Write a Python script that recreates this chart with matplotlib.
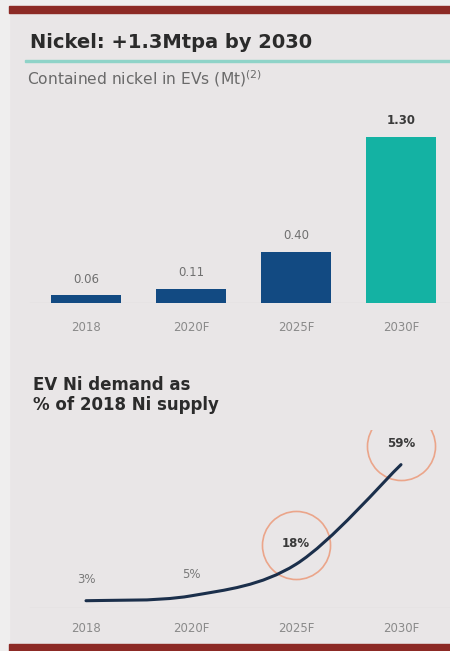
import numpy as np
import matplotlib
matplotlib.use("Agg")
import matplotlib.pyplot as plt
from matplotlib.patches import Rectangle, PathPatch
from matplotlib.path import Path
from matplotlib.transforms import offset_copy

# data
years = ["2018", "2020F", "2025F", "2030F"]
contained_ni = [0.06, 0.11, 0.40, 1.30]
bar_labels = ["0.06", "0.11", "0.40", "1.30"]
pct_supply = [3, 5, 18, 59]
pct_labels = ["3%", "5%", "18%", "59%"]

W, H = 450, 651
fig = plt.figure(figsize=(W / 100, H / 100), dpi=100)
fig.patch.set_facecolor("#e9e6e7")

def fx(x):
    return x / W

def fy(y):
    return 1 - y / H

# left strip, top margin and red bands
fig.patches.append(Rectangle((0, 0), fx(9), 1, transform=fig.transFigure,
                             color="#efeeee", zorder=0))
fig.patches.append(Rectangle((0, fy(6)), 1, 6 / H, transform=fig.transFigure,
                             color="#efeeee", zorder=0))
fig.patches.append(Rectangle((fx(9), fy(13)), 1, 7 / H, transform=fig.transFigure,
                             color="#8c2a25", zorder=1))
fig.patches.append(Rectangle((fx(9), 0), 1, 7 / H, transform=fig.transFigure,
                             color="#8c2a25", zorder=1))
# teal rule under title
fig.patches.append(Rectangle((fx(25), fy(62)), 1, 2 / H, transform=fig.transFigure,
                             color="#8fd3c8", zorder=1))

fig.text(fx(30), fy(42), "Nickel: +1.3Mtpa by 2030", fontsize=14, fontweight="bold",
         color="#2b2b2b", va="center", ha="left")
fig.text(fx(27), fy(79), "Contained nickel in EVs (Mt)$^{(2)}$", fontsize=11.2,
         color="#6a6a6a", va="center", ha="left")

x = np.arange(len(years))
xlim = (-86 / 105, (450 - 86) / 105)

# bar chart
ax1 = fig.add_axes([0, fy(303), 1, (303 - 100) / H])
ax1.set_zorder(3)
ax1.set_facecolor("none")
colors = ["#124a82", "#124a82", "#124a82", "#14b2a3"]
ax1.bar(x, contained_ni, width=0.67, color=colors, zorder=2)
ax1.set_xlim(xlim)
ax1.set_ylim(0, 203 / 127.7)
for xi, v, lab in zip(x, contained_ni, bar_labels):
    bold = lab == "1.30"
    ax1.annotate(lab, (xi, v), xytext=(0, 7), textcoords="offset points",
                 ha="center", va="bottom", fontsize=8.5,
                 fontweight="bold" if bold else "normal",
                 color="#3a3a3a" if bold else "#707070")
ax1.axhline(0, xmin=fx(30), color="#dcdada", lw=1, zorder=1)
for s in ax1.spines.values():
    s.set_visible(False)
ax1.set_yticks([])
ax1.set_xticks(x, years)
ax1.tick_params(axis="x", length=0, pad=13, labelsize=8.5, labelcolor="#8a8a8a")

# line chart
fig.text(fx(33), fy(395), "EV Ni demand as\n% of 2018 Ni supply", fontsize=12,
         fontweight="bold", color="#2b2b2b", va="center", ha="left", linespacing=1.15)

ax2 = fig.add_axes([0, fy(608), 1, (608 - 430) / H])
ax2.set_zorder(3)
ax2.set_facecolor("none")
ax2.set_xlim(xlim)
ax2.set_ylim(0, 178 / 2.43)

pts = np.column_stack([x, pct_supply]).astype(float)
ext = np.vstack([pts[0], pts, pts[-1]])
verts = [tuple(pts[0])]
codes = [Path.MOVETO]
for i in range(len(pts) - 1):
    p0, p1, p2, p3 = ext[i], ext[i + 1], ext[i + 2], ext[i + 3]
    c1 = p1 + (p2 - p0) / 6
    c2 = p2 - (p3 - p1) / 6
    verts += [tuple(c1), tuple(c2), tuple(p2)]
    codes += [Path.CURVE4] * 3
ax2.add_patch(PathPatch(Path(verts, codes), fill=False, edgecolor="#1b2f4b",
                        lw=2.2, capstyle="round", zorder=3))

up = offset_copy(ax2.transData, fig=fig, x=0, y=21, units="dots")
circ = offset_copy(ax2.transData, fig=fig, x=0, y=19, units="dots")
for xi, v, lab in zip(x, pct_supply, pct_labels):
    big = v >= 18
    ax2.text(xi, v, lab, transform=up, ha="center", va="center", fontsize=8.5,
             fontweight="bold" if big else "normal",
             color="#3a3a3a" if big else "#7a7a7a")
    if big:
        ax2.plot([xi], [v], transform=circ, marker="o", ms=49, mfc="none",
                 mec="#eba58a", mew=1.2, zorder=2)
ax2.axhline(0, xmin=fx(30), color="#dcdada", lw=1, zorder=1)
for s in ax2.spines.values():
    s.set_visible(False)
ax2.set_yticks([])
ax2.set_xticks(x, years)
ax2.tick_params(axis="x", length=0, pad=10, labelsize=8.5, labelcolor="#8a8a8a")

fig.savefig("out.png", dpi=100, facecolor=fig.get_facecolor())
